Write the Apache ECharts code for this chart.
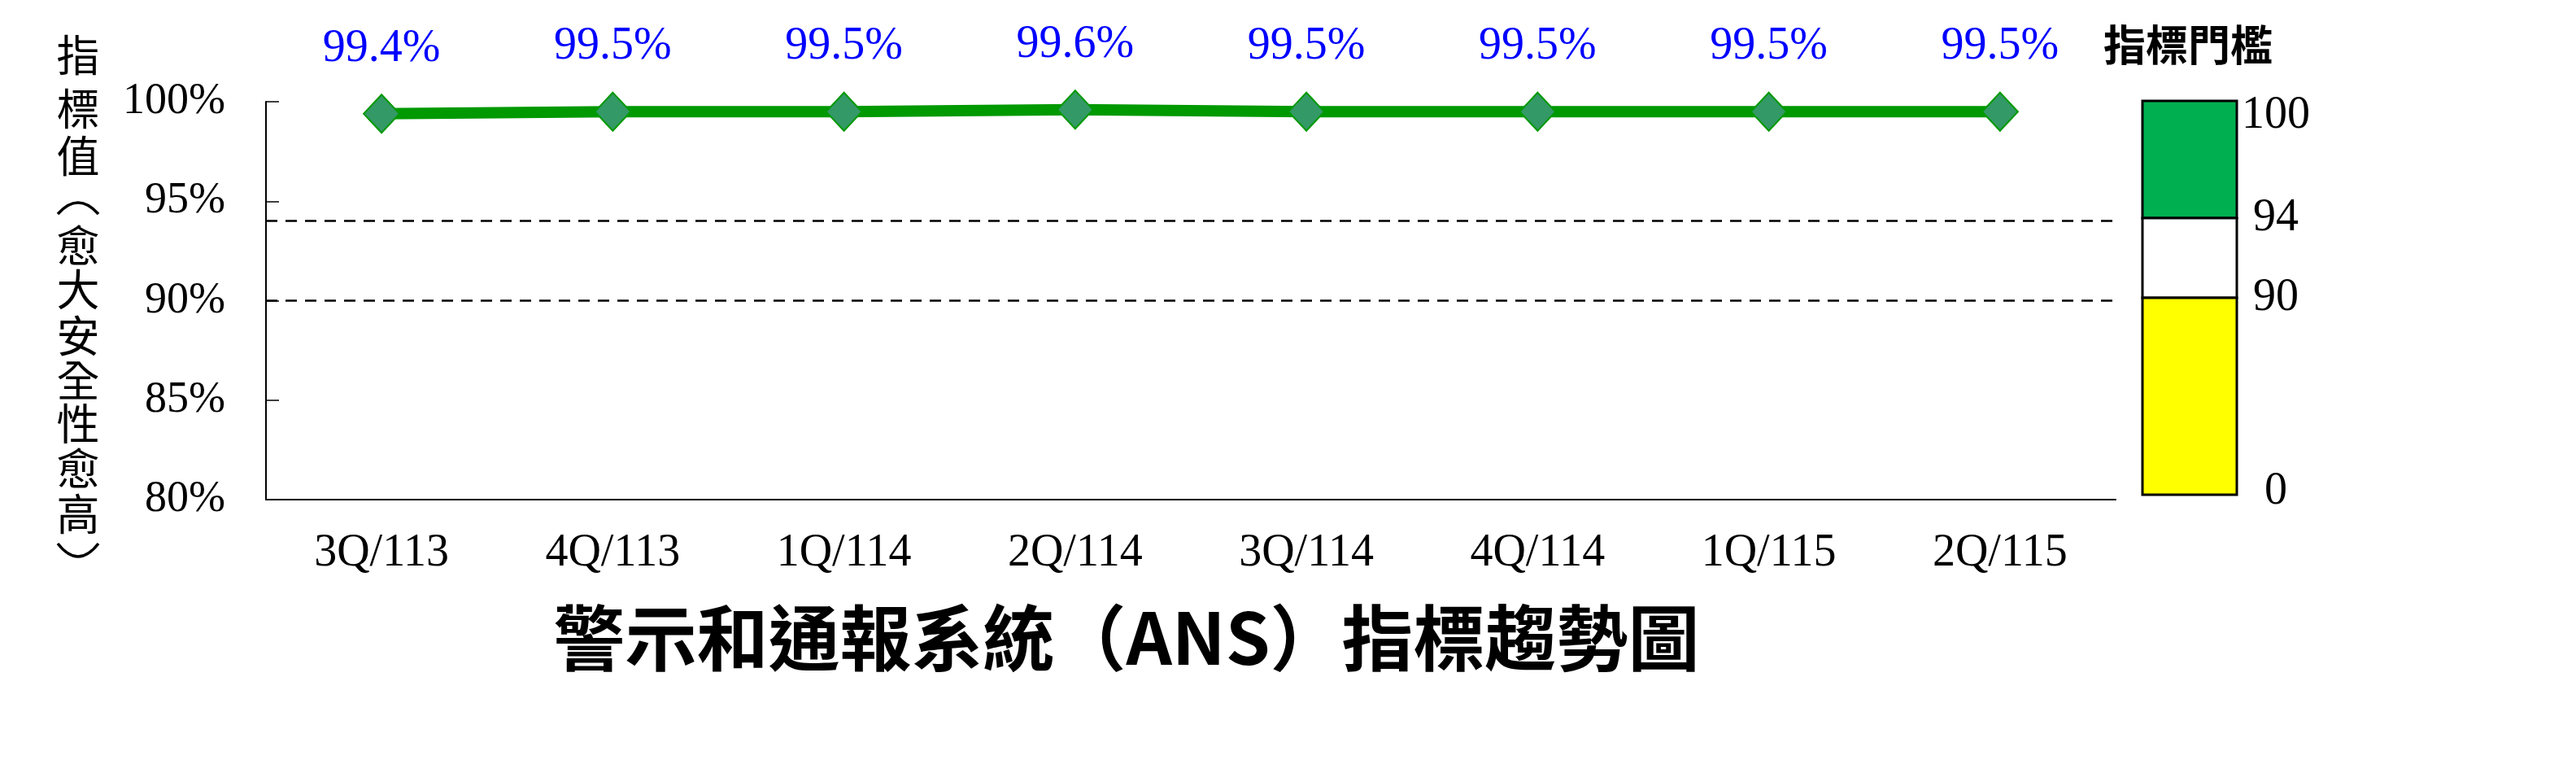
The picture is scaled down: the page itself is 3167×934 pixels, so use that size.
<!DOCTYPE html>
<html>
<head>
<meta charset="utf-8">
<script src="https://cdn.jsdelivr.net/npm/echarts@6/dist/echarts.min.js"></script>
<style>
html,body{margin:0;padding:0;background:#fff;}
#chart{width:3167px;height:934px;}
</style>
</head>
<body>
<div id="chart"></div>
<script>
const categories = ['3Q/113','4Q/113','1Q/114','2Q/114','3Q/114','4Q/114','1Q/115','2Q/115'];
const values = [99.4, 99.5, 99.5, 99.6, 99.5, 99.5, 99.5, 99.5];
const thresholdLines = [94, 90];
const yTicks = { min: 80, max: 100, interval: 5 };
const legendBands = [
  { from: 94, to: 100, color: '#00B050' },
  { from: 90, to: 94, color: '#FFFFFF' },
  { from: 0, to: 90, color: '#FFFF00' }
];
const legendLabels = ['100', '94', '90', '0'];
const titleText = '警示和通報系統（ANS）指標趨勢圖';
const yName = '指標值（愈大安全性愈高）';
const legendTitle = '指標門檻';

const serif = '"Liberation Serif", "Times New Roman", serif';
const cjk = '"Noto Sans CJK TC", "Noto Sans CJK SC", sans-serif';

// threshold legend box layout (pixel positions of the band boundaries)
const boxX = 2634, boxW = 116;
const boxYs = [124, 268, 366, 608];
const graphics = [];
for (let i = 0; i < legendBands.length; i++) {
  graphics.push({
    type: 'rect',
    shape: { x: boxX, y: boxYs[i], width: boxW, height: boxYs[i + 1] - boxYs[i] },
    style: { fill: legendBands[i].color, stroke: '#000', lineWidth: 3 }
  });
}
for (let i = 0; i < legendLabels.length; i++) {
  graphics.push({
    type: 'text',
    x: 2798, y: boxYs[i] + (i === 0 ? 18 : 0) - (i === 3 ? 4 : 0),
    style: { text: legendLabels[i], font: '56px ' + serif, fill: '#000', textAlign: 'center', textVerticalAlign: 'middle' }
  });
}
graphics.push({
  type: 'text', x: 2690, y: 55,
  style: { text: legendTitle, font: 'bold 52px ' + cjk, fill: '#000', textAlign: 'center', textVerticalAlign: 'middle' }
});
graphics.push({
  type: 'text', x: 1385, y: 784,
  style: { text: titleText, font: 'bold 88px ' + cjk, fill: '#000', textAlign: 'center', textVerticalAlign: 'middle' }
});
// vertical y-axis name: one character per line, brackets drawn in vertical-writing form
const yChars = yName.split('');
const yCenters = [68, 134, 192, 256, 302, 356, 413, 468, 521, 576, 632, 676];
const nameX = 96;
yChars.forEach((ch, i) => {
  if (ch === '（' || ch === '）') {
    const open = ch === '（';
    const yEnd = open ? yCenters[i] + 7 : yCenters[i] - 8;
    const yCtl = open ? yCenters[i] - 21 : yCenters[i] + 24;
    graphics.push({
      type: 'bezierCurve',
      shape: { x1: nameX - 25, y1: yEnd, x2: nameX + 25, y2: yEnd, cpx1: nameX, cpy1: yCtl },
      style: { stroke: '#000', lineWidth: 3.5, fill: null }
    });
  } else {
    graphics.push({
      type: 'text', x: nameX, y: yCenters[i],
      style: { text: ch, font: '53px ' + cjk, fill: '#000', textAlign: 'center', textVerticalAlign: 'middle' }
    });
  }
});

const chart = echarts.init(document.getElementById('chart'), null, { renderer: 'canvas' });
chart.setOption({
  animation: false,
  backgroundColor: '#fff',
  grid: { left: 327, right: 566, top: 125, bottom: 320, containLabel: false },
  xAxis: {
    type: 'category',
    data: categories,
    boundaryGap: true,
    axisLine: { lineStyle: { color: '#000', width: 2 } },
    axisTick: { inside: true, length: 16, lineStyle: { color: '#000', width: 1.5 } },
    axisLabel: { color: '#000', fontFamily: serif, fontSize: 56, margin: 38 }
  },
  yAxis: {
    type: 'value',
    min: yTicks.min, max: yTicks.max, interval: yTicks.interval,
    axisLine: { show: true, lineStyle: { color: '#000', width: 2 } },
    axisTick: { show: true, inside: true, length: 16, lineStyle: { color: '#000', width: 1.5 } },
    splitLine: { show: false },
    axisLabel: { color: '#000', fontFamily: serif, fontSize: 54, margin: 50, formatter: '{value}%' }
  },
  graphic: graphics,
  series: [{
    type: 'line',
    data: values,
    symbol: 'diamond',
    symbolSize: [44, 47],
    lineStyle: { color: '#009900', width: 14 },
    itemStyle: { color: '#339966', borderColor: '#009900', borderWidth: 2 },
    label: {
      show: true, position: 'top', distance: 27,
      color: '#0000FF', fontFamily: serif, fontSize: 56,
      formatter: p => p.value.toFixed(1) + '%'
    },
    markLine: {
      silent: true, symbol: 'none', label: { show: false },
      lineStyle: { color: '#000', type: [14, 10], width: 2.5 },
      data: thresholdLines.map(v => ({ yAxis: v }))
    },
    z: 3
  }]
});
</script>
</body>
</html>
